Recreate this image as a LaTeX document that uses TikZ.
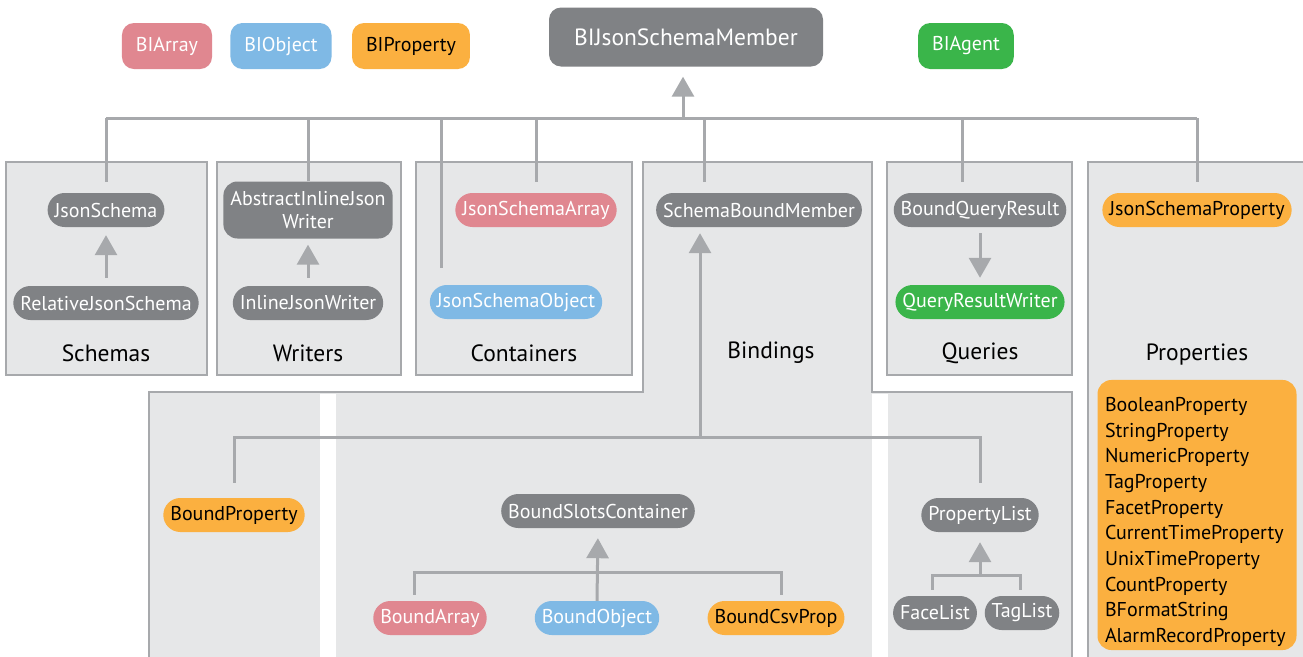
\documentclass[tikz,border=0pt]{standalone}
\usepackage{fontspec}
\setmainfont{PT Sans}
\usetikzlibrary{arrows.meta}
\definecolor{ngray}{HTML}{808285}
\definecolor{npink}{HTML}{E08790}
\definecolor{nblue}{HTML}{7FB9E5}
\definecolor{norange}{HTML}{FBB040}
\definecolor{ngreen}{HTML}{3AB54A}
\definecolor{pfill}{HTML}{E6E7E8}
\definecolor{pline}{HTML}{A7A9AC}
\definecolor{lcol}{HTML}{A7A9AC}
\begin{document}
\begin{tikzpicture}[x=1pt,y=-1pt,
  panel/.style={fill=pfill, draw=pline, line width=1.5pt},
  cls/.style={rounded corners=17pt, minimum height=34pt, inner xsep=7pt, inner ysep=0pt,
    font=\fontsize{20}{23}\selectfont, text=white, fill=ngray},
  gcls/.style={cls, fill=ngray},
  pcls/.style={cls, fill=npink},
  bcls/.style={cls, fill=nblue},
  ocls/.style={cls, fill=norange, text=black},
  grcls/.style={cls, fill=ngreen},
  leg/.style={rounded corners=12pt, minimum height=46pt, inner xsep=14pt,
    font=\fontsize{20}{23}\selectfont, text=white},
  lbl/.style={font=\fontsize{23.5}{27}\selectfont, text=black},
  conn/.style={draw=lcol, line width=3pt},
  tip/.style={-{Triangle[width=22pt,length=20pt]}}
]
\useasboundingbox (0,0) rectangle (1303,656);
\fill[white] (0,0) rectangle (1303,656);

% panels
\draw[panel] (6,162) rectangle (207,375);
\draw[panel] (217,162) rectangle (401,375);
\draw[panel] (416,162) rectangle (632,375);
\draw[panel] (887,162) rectangle (1072,375);
\draw[panel] (1088,162) rectangle (1320,680);
\draw[panel] (643,162) -- (872,162) -- (872,392) -- (1072,392) -- (1072,680)
  -- (149,680) -- (149,392) -- (643,392) -- cycle;
\fill[white] (320,393.5) rectangle (336,680);
\fill[white] (872,393.5) rectangle (888,680);

% panel labels
\node[lbl] (lSchemas) at (106,353) {Schemas};
\node[lbl] (lWriters) at (308,353) {Writers};
\node[lbl] (lContainers) at (524,353) {Containers};
\node[lbl] (lBindings) at (771,353) {Bindings};
\node[lbl] (lQueries) at (980,353) {Queries};
\node[lbl] (lProperties) at (1197,355) {Properties};

% legend
\node[leg, fill=npink] (BIArray) at (167,46) {BIArray};
\node[leg, fill=nblue] (BIObject) at (281,46) {BIObject};
\node[leg, fill=norange, text=black] (BIProperty) at (411,46) {BIProperty};
\node[leg, fill=ngreen] (BIAgent) at (966,46) {BIAgent};
\node[leg, fill=ngray, minimum height=59pt, minimum width=274pt,
  font=\fontsize{23.5}{27}\selectfont] (BIJsonSchemaMember) at (686,37) {BIJsonSchemaMember};

% class nodes
\node[gcls] (JsonSchema) at (106,210) {JsonSchema};
\node[gcls] (RelativeJsonSchema) at (106,303) {RelativeJsonSchema};
\node[gcls, rounded corners=14pt, minimum height=57pt, align=center,
  font=\fontsize{20}{23}\selectfont] (AbstractInlineJsonWriter) at (308,210) {AbstractInlineJson\\Writer};
\node[gcls] (InlineJsonWriter) at (308,303) {InlineJsonWriter};
\node[pcls] (JsonSchemaArray) at (536,210) {JsonSchemaArray};
\node[bcls] (JsonSchemaObject) at (516,302) {JsonSchemaObject};
\node[gcls] (SchemaBoundMember) at (759,210) {SchemaBoundMember};
\node[gcls] (BoundQueryResult) at (980,210) {BoundQueryResult};
\node[grcls] (QueryResultWriter) at (980,302) {QueryResultWriter};
\node[ocls] (JsonSchemaProperty) at (1197,210) {JsonSchemaProperty};

\node[ocls] (BoundProperty) at (234,515) {BoundProperty};
\node[gcls] (BoundSlotsContainer) at (598,511) {BoundSlotsContainer};
\node[pcls] (BoundArray) at (430,618) {BoundArray};
\node[bcls] (BoundObject) at (597,618) {BoundObject};
\node[ocls] (BoundCsvProp) at (776,618) {BoundCsvProp};
\node[gcls] (PropertyList) at (980,515) {PropertyList};
\node[gcls] (FaceList) at (935,613) {FaceList};
\node[gcls] (TagList) at (1022,613) {TagList};

\node[fill=norange, rounded corners=14pt, minimum width=199pt, minimum height=270pt,
  text width=184pt, align=left, inner xsep=7.5pt,
  font=\fontsize{20}{25.7}\selectfont] (PropList) at (1197,515)
  {\rule{0pt}{28pt}BooleanProperty\\StringProperty\\NumericProperty\\TagProperty\\FacetProperty\\CurrentTimeProperty\\UnixTimeProperty\\CountProperty\\BFormatString\\AlarmRecordProperty};

% top tree
\coordinate (bus) at (683,118);
\draw[conn] (JsonSchema.north |- bus) -- (JsonSchemaProperty.north |- bus);
\draw[conn, tip, shorten >=10pt] (bus) -- (bus |- BIJsonSchemaMember.south);
\draw[conn, shorten <=11pt] (JsonSchema.north) -- (JsonSchema.north |- bus);
\draw[conn] (AbstractInlineJsonWriter.north) -- (AbstractInlineJsonWriter.north |- bus);
\coordinate (objtop) at (441,268);
\draw[conn] (objtop) -- (objtop |- bus);
\draw[conn, shorten <=11pt] (JsonSchemaArray.north) -- (JsonSchemaArray.north |- bus);
\coordinate (sbm) at (704,193);
\draw[conn, shorten <=11pt] (sbm) -- (sbm |- bus);
\draw[conn, shorten <=11pt] ([xshift=-18pt]BoundQueryResult.north) -- ([xshift=-18pt]BoundQueryResult.north |- bus);
\draw[conn, shorten <=11pt] (JsonSchemaProperty.north) -- (JsonSchemaProperty.north |- bus);

% inner arrows
\draw[conn, tip, shorten <=8pt, shorten >=8pt] (RelativeJsonSchema.north) -- (JsonSchema.south);
\draw[conn, tip, shorten <=8pt, shorten >=6pt] (InlineJsonWriter.north) -- (AbstractInlineJsonWriter.south);
\draw[conn, tip, shorten <=6pt, shorten >=7pt] (BoundQueryResult.south) -- (QueryResultWriter.north);

% bindings
\coordinate (bbus) at (700,437);
\draw[conn, shorten <=15pt, shorten >=15pt] (BoundProperty.north) -- (BoundProperty.north |- bbus)
  -- (PropertyList.north |- bbus) -- (PropertyList.north);
\draw[conn, tip, shorten >=6pt] (bbus) -- (bbus |- SchemaBoundMember.south);

\draw[conn, shorten <=6pt, shorten >=6pt] ([xshift=-16pt]BoundArray.north) -- ++(0,-28)
  -| ([xshift=5pt]BoundCsvProp.north);
\draw[conn, tip, shorten >=10pt] (BoundObject.north) -- (BoundSlotsContainer.south);

\coordinate (pbus) at (980,575);
\draw[conn, shorten <=6pt, shorten >=6pt] ([xshift=-3pt]FaceList.north) -- ([xshift=-3pt]FaceList.north |- pbus)
  -- ([xshift=-2pt]TagList.north |- pbus) -- ([xshift=-2pt]TagList.north);
\draw[conn, tip, shorten >=10pt] (pbus) -- (PropertyList.south);
\end{tikzpicture}
\end{document}
